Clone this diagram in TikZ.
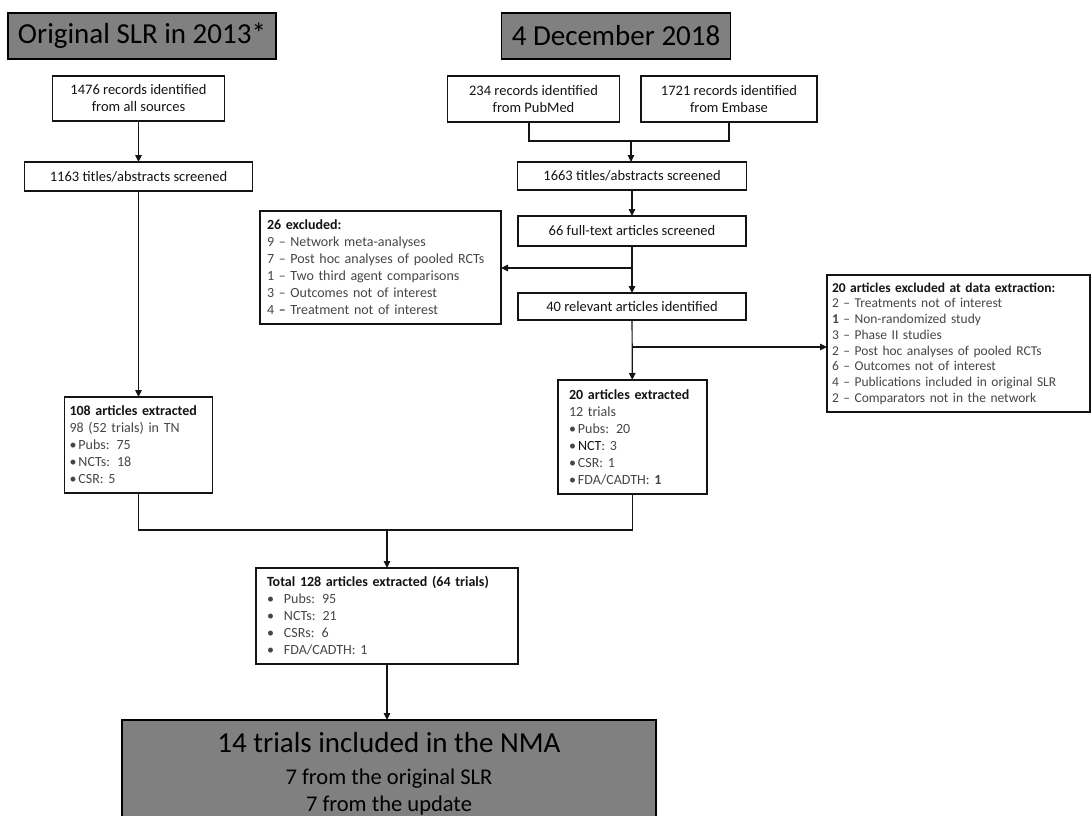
\documentclass[tikz,border=0pt]{standalone}
\usepackage{fontspec}
\setmainfont{Carlito}
\usetikzlibrary{arrows.meta}
\definecolor{hdrfill}{RGB}{128,128,128}
\definecolor{ink}{RGB}{20,20,20}
\definecolor{softink}{RGB}{70,70,70}

\newcommand{\itm}[2]{\makebox[#1][l]{\textbullet}#2}

\tikzset{
  every node/.style={inner sep=0pt, outer sep=0pt},
  box/.style={draw=ink, line width=1.3pt, fill=white, align=center, text=ink,
    font=\fontsize{14.5}{17}\selectfont},
  listbox/.style={box, align=left, text=softink, font=\fontsize{14}{17}\selectfont},
  hdr/.style={draw=black, line width=1.8pt, fill=hdrfill, text=black,
    font=\fontsize{29}{34}\selectfont},
  arr/.style={draw=ink, line width=1.2pt, -{Triangle[length=7pt,width=6.5pt]}},
  link/.style={draw=ink, line width=1.2pt},
}

\begin{document}
\begin{tikzpicture}[x=1pt,y=-1pt]
\useasboundingbox (0,0) rectangle (1092,816);
\fill[white] (0,0) rectangle (1092,816);

% column headings
\node[hdr, minimum width=268pt, minimum height=46pt] (h1) at (142,36) {Original SLR in 2013*};
\node[hdr, minimum width=229pt, minimum height=46pt] (h2) at (616,36) {4 December 2018};

% original review
\node[box, minimum width=172pt, minimum height=45pt] (r1476) at (138.5,98.5)
  {1476 records identified\\from all sources};
\node[box, minimum width=228pt, minimum height=29pt] (s1163) at (138.5,176.5)
  {1163 titles/abstracts screened};
\node[listbox, text width=138pt, inner xsep=5pt, minimum height=96pt] (x108) at (138.5,445)
  {\textcolor{ink}{\textbf{108 articles extracted}}\\
   98 (52 trials) in TN\\
   \itm{9pt}{Pubs: 75}\\
   \itm{9pt}{NCTs: 18}\\
   \itm{9pt}{CSR: 5}};

% update search
\node[box, minimum width=172pt, minimum height=46pt] (r234) at (533.5,99)
  {234 records identified\\from PubMed};
\node[box, minimum width=176pt, minimum height=46pt] (r1721) at (729,99)
  {1721 records identified\\from Embase};
\coordinate (jn) at (631,141);
\node[box, minimum width=229pt, minimum height=28pt] (s1663) at (632,176)
  {1663 titles/abstracts screened};
\node[box, minimum width=228pt, minimum height=30pt] (f66) at (632,231)
  {66 full-text articles screened};
\node[box, minimum width=228pt, minimum height=27pt] (a40) at (632,306.5)
  {40 relevant articles identified};
\node[listbox, text width=227pt, inner xsep=7pt, minimum height=113pt] (ex26) at (380.5,267.5)
  {\textcolor{ink}{\textbf{26 excluded:}}\\
   9 – Network meta-analyses\\
   7 – Post hoc analyses of pooled RCTs\\
   1 – Two third agent comparisons\\
   3 – Outcomes not of interest\\
   4 \textbf{–} Treatment not of interest};
\node[listbox, text width=253pt, inner xsep=5pt, minimum height=137pt,
      font=\fontsize{13.5}{15.7}\selectfont] (ex20) at (958.5,343.5)
  {\textcolor{ink}{\textbf{20 articles excluded at data extraction:}}\\
   2 – Treatments not of interest\\
   \textbf{1} – Non-randomized study\\
   3 – Phase II studies\\
   2 – Post hoc analyses of pooled RCTs\\
   6 – Outcomes not of interest\\
   4 – Publications included in original SLR\\
   2 – Comparators not in the network};
\node[listbox, text width=127pt, inner xsep=11pt, minimum height=114pt] (x20) at (632.5,437)
  {\textcolor{ink}{\textbf{20 articles extracted}}\\
   12 trials\\
   \itm{9pt}{Pubs: 20}\\
   \itm{9pt}{\textcolor{ink}{NCT}: 3}\\
   \itm{9pt}{CSR: 1}\\
   \itm{9pt}{FDA/CADTH: \textbf{1}}};

% combined results
\coordinate (mg) at (387,530);
\node[listbox, text width=240pt, inner xsep=11pt, minimum height=96pt] (tot) at (387,616)
  {\textcolor{ink}{\textbf{Total 128 articles extracted (64 trials)}}\\
   \itm{17pt}{Pubs: 95}\\
   \itm{17pt}{NCTs: 21}\\
   \itm{17pt}{CSRs: 6}\\
   \itm{17pt}{FDA/CADTH: 1}};
\node[hdr, line width=2pt, minimum width=534pt, minimum height=107pt, align=center, anchor=north,
      font=\fontsize{29}{27}\selectfont] (nma) at (389,720)
  {14 trials included in the NMA\\[5pt]
   {\fontsize{22.5}{27}\selectfont 7 from the original SLR}\\
   {\fontsize{22.5}{27}\selectfont 7 from the update}};

% connectors: original review
\draw[arr] (r1476) -- (s1163);
\draw[arr] (s1163) -- (x108);

% connectors: update search
\draw[link] (r234.south -| 529,0) |- (jn) -| (r1721.south);
\draw[arr] (jn) -- (s1663.north -| jn);
\draw[arr] (s1663) -- (f66);
\coordinate (k26) at (632,268);
\draw[arr] (f66) -- (a40);
\draw[arr] (k26) -- (ex26.east |- k26);
\coordinate (k20) at (632,347);
\draw[arr] (a40) -- (x20);
\draw[arr] (k20) -- (ex20.west |- k20);

% connectors: merging both reviews
\draw[link] (x108.south) |- (mg) -| (x20.south);
\draw[arr] (mg) -- (tot.north);
\draw[arr] (tot.south) -- (nma.north -| tot.south);
\end{tikzpicture}
\end{document}
